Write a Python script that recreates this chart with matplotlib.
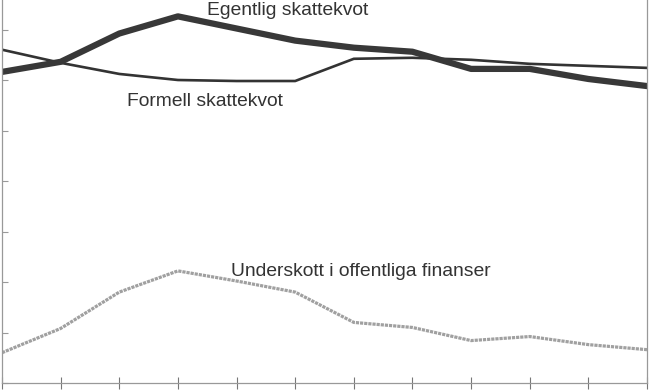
import matplotlib
matplotlib.use("Agg")
import matplotlib.pyplot as plt

periods = list(range(12))
egentlig = [30.8, 31.8, 34.6, 36.3, 35.1, 33.9, 33.2, 32.8, 31.1, 31.1, 30.1, 29.4]
formell = [33.0, 31.7, 30.6, 30.0, 29.9, 29.9, 32.1, 32.2, 32.0, 31.6, 31.4, 31.2]
underskott = [3.0, 5.4, 9.0, 11.1, 10.1, 9.0, 6.0, 5.5, 4.2, 4.6, 3.8, 3.3]
y_ticks = [0, 5, 10, 15, 20, 25, 30, 35]

plt.rcParams['font.family'] = ['Liberation Sans', 'DejaVu Sans']

fig = plt.figure(figsize=(6.51, 3.91), dpi=100)
ax = fig.add_axes([2/651, 8/391, 645/651, 383/391])

ax.plot(periods, underskott, color='#a0a0a0', lw=2.3, ls=(0, (1.0, 0.3)), solid_capstyle='butt')
ax.plot(periods, formell, color='#333333', lw=1.9, solid_joinstyle='round')
ax.plot(periods, egentlig, color='#383838', lw=4.5, solid_joinstyle='round')

ax.set_xlim(0, 11)
ax.set_ylim(0, 383/50.5*5)
ax.set_xticks(periods)
ax.set_yticks(y_ticks)
ax.set_xticklabels([])
ax.set_yticklabels([])
ax.tick_params(axis='x', direction='inout', length=8, width=0.8, color='#777777')
ax.tick_params(axis='y', direction='in', length=4, width=0.8, color='#999999')

for s in ['left', 'right', 'bottom']:
    ax.spines[s].set_color('#999999')
    ax.spines[s].set_linewidth(0.9)
ax.spines['top'].set_visible(False)

ax.text(207/58.5 - 2/58.5, (383-15)*0.099, 'Egentlig skattekvot', fontsize=13.9, color='#333333', va='baseline', ha='left', clip_on=False)
ax.text(127/58.5 - 2/58.5, (383-106)*0.099, 'Formell skattekvot', fontsize=13.9, color='#333333', va='baseline', ha='left')
ax.text(230/58.5 - 2/58.5, (383-276)*0.099, 'Underskott i offentliga finanser', fontsize=13.9, color='#333333', va='baseline', ha='left')

fig.savefig('out.png', dpi=100)
